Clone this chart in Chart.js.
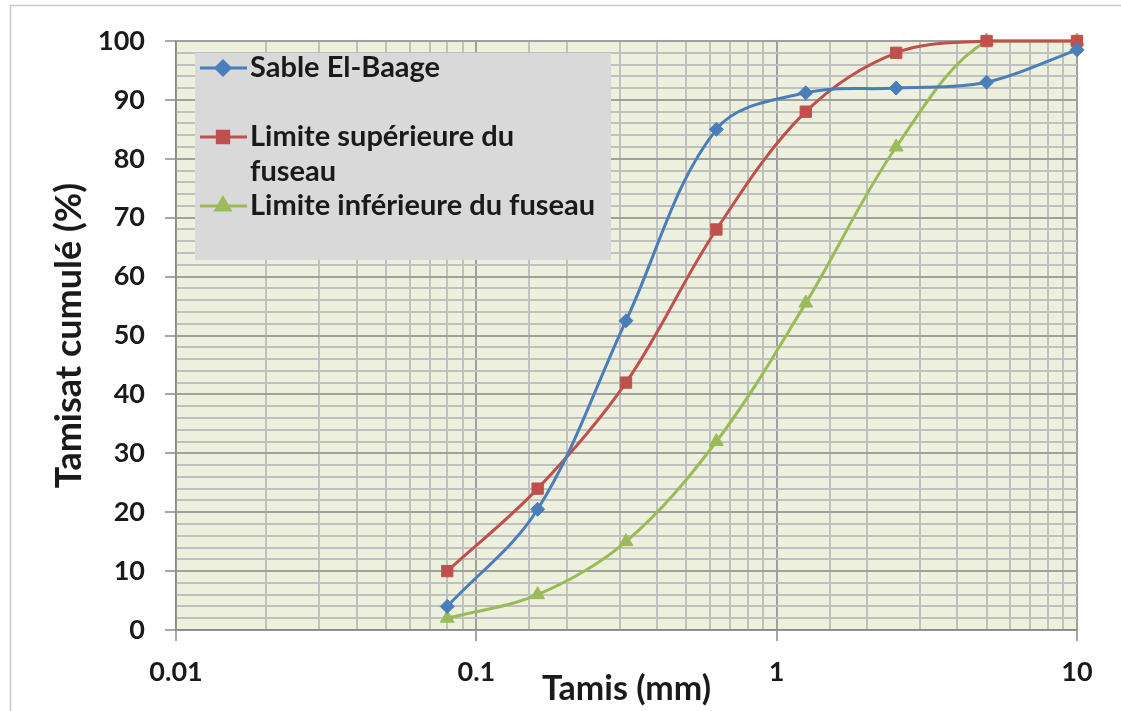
<!DOCTYPE html>
<html>
<head>
<meta charset="utf-8">
<script src="https://cdn.jsdelivr.net/npm/chart.js@4/dist/chart.umd.min.js"></script>
<style>
  body { margin: 0; background: #fff; }
  #wrap { width: 1121px; height: 711px; }
</style>
</head>
<body>
<div id="wrap"><canvas id="c" width="1121" height="711"></canvas></div>
<script>
// Courbes granulométriques (tamis en mm, tamisat cumulé en %)
const sieves  = [0.08, 0.16, 0.315, 0.63, 1.25, 2.5, 5, 10];
const sable   = [4, 20.5, 52.5, 85, 91.2, 92, 93, 98.5];
const limSup  = [10, 24, 42, 68, 88, 98, 100, 100];
const limInf  = [2, 6, 15, 32, 55.5, 82, 100, 100];

const xTickLabels = ["0.01", "0.1", "1", "10"];
const yTickLabels = [0, 10, 20, 30, 40, 50, 60, 70, 80, 90, 100];

const seriesNames = ["Sable El-Baage", "Limite supérieure du fuseau", "Limite inférieure du fuseau"];
// retour à la ligne comme dans la légende Excel
const legendLines = [["Sable El-Baage"], ["Limite supérieure du", "fuseau"], ["Limite inférieure du fuseau"]];
const legendRows  = [0, 2, 4];

const FONT = "Lato, 'Open Sans', sans-serif";
const TXT  = "#1a1a1a";

function pts(ys) {
  return sieves.map((x, i) => ({ x: x, y: ys[i] }));
}

function isDecade(v) {
  const l = Math.log10(v);
  return Math.abs(l - Math.round(l)) < 1e-6;
}

// ─────────────────────────────────────────────
// Légende grise dans la zone de tracé + cadre
// ─────────────────────────────────────────────
const excelLegend = {
  id: "excelLegend",
  beforeDraw(chart) {
    const ctx = chart.ctx;
    ctx.save();
    ctx.fillStyle = "#fff";
    ctx.fillRect(0, 0, chart.width, chart.height);
    ctx.strokeStyle = "#c8c8c8";
    ctx.lineWidth = 1.5;
    ctx.beginPath();
    ctx.moveTo(10.5, chart.height);
    ctx.lineTo(10.5, 5.5);
    ctx.lineTo(chart.width, 5.5);
    ctx.stroke();
    ctx.restore();
  },
  beforeDatasetsDraw(chart) {
    const ctx = chart.ctx;
    const ds = chart.data.datasets;
    const bx = 195, by = 53, bw = 416, bh = 207;
    ctx.save();
    ctx.fillStyle = "#d9d9d9";
    ctx.fillRect(bx, by, bw, bh);

    const rowH = 34.5, y0 = 68;
    ctx.font = "bold 29px " + FONT;
    ctx.textBaseline = "middle";
    ctx.fillStyle = TXT;
    legendLines.forEach((lines, i) => {
      const y = y0 + legendRows[i] * rowH;
      const d = ds[i];
      ctx.strokeStyle = d.borderColor;
      ctx.lineWidth = 3;
      ctx.beginPath();
      ctx.moveTo(200, y);
      ctx.lineTo(247, y);
      ctx.stroke();
      Chart.helpers.drawPoint(ctx, {
        pointStyle: d.pointStyle,
        radius: d.pointRadius,
        rotation: 0,
        borderWidth: 1
      }, 223, y);
      ctx.fillStyle = d.backgroundColor;
      ctx.fill();
      ctx.fillStyle = TXT;
      lines.forEach((t, k) => ctx.fillText(t, 250, y + k * rowH));
    });
    ctx.restore();
  }
};

function grid(majorTest) {
  return {
    color: c => majorTest(c.tick.value) ? "#a0a0a0" : "#c0c0c0",
    lineWidth: 2,
    tickLength: 11,
    tickColor: c => majorTest(c.tick.value) ? "#8a8a8a" : "rgba(0,0,0,0)",
    tickWidth: 1.5
  };
}

const chart = new Chart(document.getElementById("c"), {
  type: "scatter",
  data: {
    datasets: [
      {
        label: seriesNames[0], data: pts(sable),
        borderColor: "#4a7ebb", backgroundColor: "#4a7ebb",
        pointStyle: "rectRot", pointRadius: 7,
      },
      {
        label: seriesNames[1], data: pts(limSup),
        borderColor: "#c0504d", backgroundColor: "#c0504d",
        pointStyle: "rect", pointRadius: 8,
      },
      {
        label: seriesNames[2], data: pts(limInf),
        borderColor: "#9bbb59", backgroundColor: "#9bbb59",
        pointStyle: "triangle", pointRadius: 8,
      },
    ].map(d => ({ ...d, showLine: true, borderWidth: 3, tension: 0.35, clip: false, pointBorderWidth: 1 })),
  },
  options: {
    responsive: false,
    animation: false,
    layout: { padding: { top: 41, right: 44, bottom: 0, left: 0 } },
    plugins: { legend: { display: false }, tooltip: { enabled: false } },
    scales: {
      x: {
        type: "logarithmic",
        min: 0.01, max: 10,
        afterFit: s => { s.height = 81; },
        grid: grid(v => isDecade(v)),
        border: { color: "#8a8a8a", width: 1.5 },
        ticks: {
          autoSkip: false, maxRotation: 0, padding: 15,
          color: TXT, font: { family: FONT, size: 27, weight: "bold" },
          callback: v => {
            if (!isDecade(v)) return "";
            return xTickLabels[Math.round(Math.log10(v)) + 2];
          }
        },
        title: {
          display: true, text: "Tamis (mm)", color: TXT,
          font: { family: FONT, size: 34, weight: "bold" },
          padding: { top: 0, bottom: 2 }
        }
      },
      y: {
        min: 0, max: 100,
        afterFit: s => { s.width = 176; },
        grid: grid(v => yTickLabels.includes(v)),
        border: { color: "#8a8a8a", width: 1.5 },
        ticks: {
          stepSize: 2, autoSkip: false, padding: 20,
          color: TXT, font: { family: FONT, size: 27, weight: "bold" },
          callback: v => yTickLabels.includes(v) ? String(v) : ""
        },
        title: {
          display: true, text: "Tamisat cumulé (%)", color: TXT,
          font: { family: FONT, size: 36, weight: "bold" },
          padding: { top: 48, bottom: 0 }
        }
      }
    }
  },
  plugins: [excelLegend, {
    id: "plotBg",
    beforeDraw(chart) {
      const a = chart.chartArea, ctx = chart.ctx;
      ctx.save();
      ctx.fillStyle = "#ecf0dd";
      ctx.fillRect(a.left, a.top, a.right - a.left, a.bottom - a.top);
      ctx.restore();
    }
  }]
});
</script>
</body>
</html>
